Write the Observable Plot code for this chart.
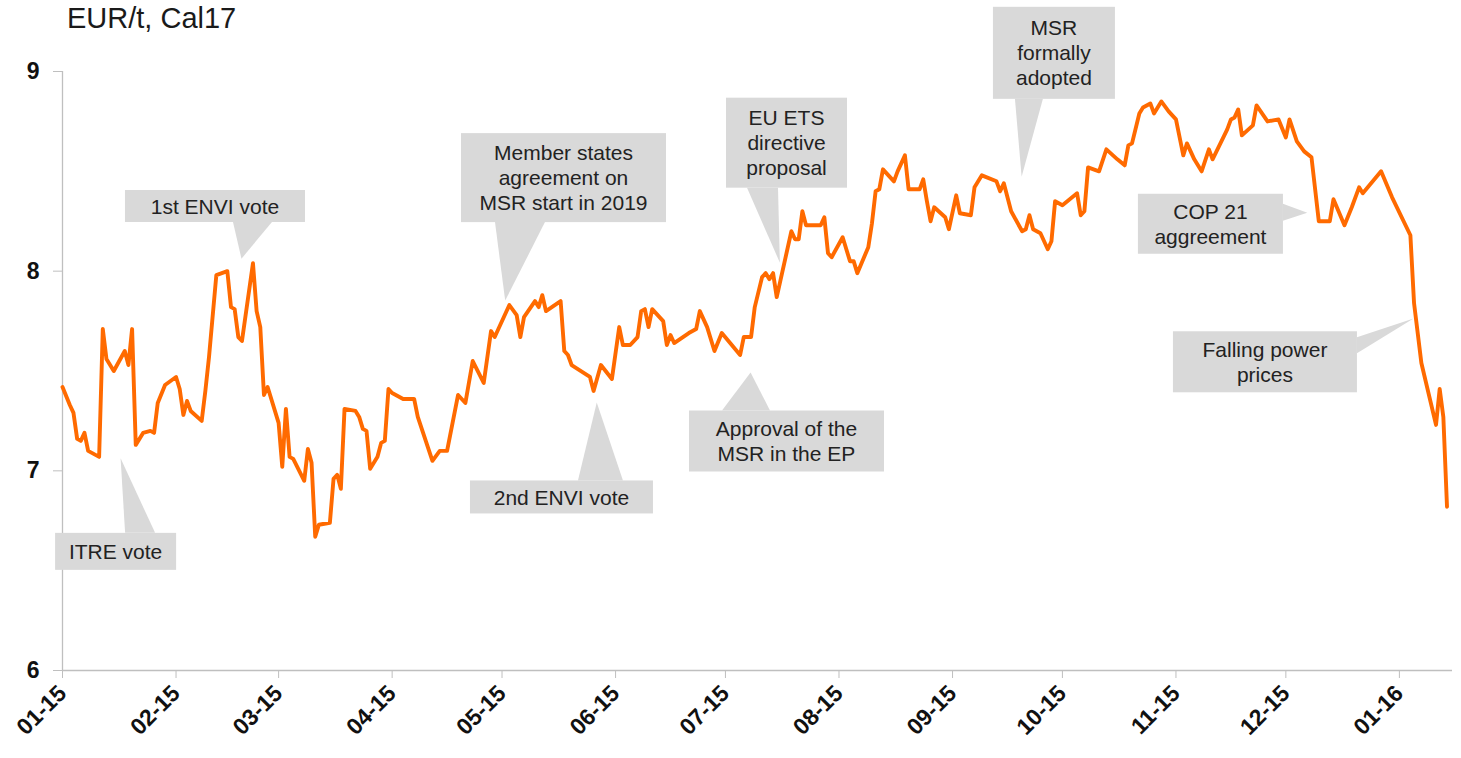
<!DOCTYPE html>
<html>
<head>
<meta charset="utf-8">
<script src="https://cdn.jsdelivr.net/npm/d3@7"></script>
<script src="https://cdn.jsdelivr.net/npm/@observablehq/plot@0.6"></script>
<style>
html,body{margin:0;padding:0;background:#fff;}
#wrap{position:relative;width:1461px;height:758px;font-family:"Liberation Sans",Arial,sans-serif;}
#title{position:absolute;left:67px;top:2px;font-size:29px;line-height:normal;color:#1a1a1a;white-space:nowrap;}
#chart{position:absolute;left:0;top:0;}
</style>
</head>
<body>
<div id="wrap"><div id="chart"></div><div id="title">EUR/t, Cal17</div></div>
<script>
// ---------- data ----------
const dates = [
"2015-01-01","2015-01-03","2015-01-04","2015-01-05","2015-01-06","2015-01-07","2015-01-08","2015-01-11","2015-01-12","2015-01-13",
"2015-01-15","2015-01-18","2015-01-19","2015-01-20","2015-01-21","2015-01-23","2015-01-25","2015-01-26","2015-01-27","2015-01-29",
"2015-02-01","2015-02-02","2015-02-03","2015-02-04","2015-02-05","2015-02-08","2015-02-09","2015-02-10","2015-02-12","2015-02-15",
"2015-02-16","2015-02-17","2015-02-18","2015-02-19","2015-02-22","2015-02-23","2015-02-24","2015-02-25","2015-02-26","2015-03-01",
"2015-03-02","2015-03-03","2015-03-04","2015-03-05","2015-03-08","2015-03-09","2015-03-10","2015-03-11","2015-03-12","2015-03-15",
"2015-03-16","2015-03-17","2015-03-18","2015-03-19","2015-03-22","2015-03-23","2015-03-24","2015-03-25","2015-03-26","2015-03-28",
"2015-03-29","2015-03-30","2015-03-31","2015-04-01","2015-04-04","2015-04-07","2015-04-08","2015-04-12","2015-04-14","2015-04-16",
"2015-04-19","2015-04-21","2015-04-23","2015-04-26","2015-04-28","2015-04-29","2015-05-03","2015-05-05","2015-05-06","2015-05-07",
"2015-05-10","2015-05-11","2015-05-12","2015-05-13","2015-05-17","2015-05-18","2015-05-19","2015-05-20","2015-05-25","2015-05-26",
"2015-05-28","2015-05-31","2015-06-02","2015-06-03","2015-06-05","2015-06-07","2015-06-08","2015-06-09","2015-06-10","2015-06-11",
"2015-06-14","2015-06-15","2015-06-16","2015-06-17","2015-06-21","2015-06-23","2015-06-24","2015-06-26","2015-06-28","2015-06-30",
"2015-07-05","2015-07-06","2015-07-08","2015-07-09","2015-07-11","2015-07-12","2015-07-13","2015-07-14","2015-07-15","2015-07-19",
"2015-07-20","2015-07-21","2015-07-22","2015-07-23","2015-07-27","2015-07-28","2015-07-29","2015-07-30","2015-08-02","2015-08-04",
"2015-08-05","2015-08-06","2015-08-09","2015-08-10","2015-08-11","2015-08-12","2015-08-13","2015-08-16","2015-08-17","2015-08-19",
"2015-08-20","2015-08-23","2015-08-24","2015-08-25","2015-08-26","2015-08-27","2015-08-30","2015-08-31","2015-09-02","2015-09-03",
"2015-09-06","2015-09-07","2015-09-09","2015-09-13","2015-09-14","2015-09-15","2015-09-17","2015-09-20","2015-09-21","2015-09-22",
"2015-09-23","2015-09-25","2015-09-27","2015-09-28","2015-09-29","2015-10-01","2015-10-03","2015-10-05","2015-10-06","2015-10-07",
"2015-10-08","2015-10-11","2015-10-13","2015-10-16","2015-10-18","2015-10-19","2015-10-20","2015-10-22","2015-10-23","2015-10-25",
"2015-10-26","2015-10-28","2015-10-30","2015-11-01","2015-11-03","2015-11-04","2015-11-06","2015-11-08","2015-11-10","2015-11-11",
"2015-11-15","2015-11-16","2015-11-17","2015-11-18","2015-11-19","2015-11-22","2015-11-23","2015-11-26","2015-11-29","2015-12-01",
"2015-12-02","2015-12-04","2015-12-06","2015-12-08","2015-12-10","2015-12-13","2015-12-14","2015-12-17","2015-12-19","2015-12-21",
"2015-12-22","2015-12-27","2015-12-30","2016-01-04","2016-01-05","2016-01-06","2016-01-07","2016-01-11","2016-01-12","2016-01-13",
"2016-01-14"
];
const prices = [
7.42,7.33,7.29,7.16,7.15,7.19,7.10,7.07,7.71,7.56,
7.50,7.60,7.53,7.71,7.13,7.19,7.20,7.19,7.34,7.43,
7.47,7.41,7.28,7.35,7.30,7.25,7.40,7.57,7.98,8.00,
7.82,7.81,7.67,7.65,8.04,7.80,7.72,7.38,7.42,7.24,
7.02,7.31,7.07,7.06,6.95,7.11,7.04,6.67,6.73,6.74,
6.96,6.98,6.91,7.31,7.30,7.27,7.21,7.20,7.01,7.07,
7.14,7.15,7.41,7.39,7.36,7.36,7.27,7.05,7.10,7.10,
7.38,7.34,7.55,7.44,7.70,7.67,7.83,7.78,7.67,7.77,
7.85,7.82,7.88,7.80,7.85,7.60,7.58,7.53,7.47,7.40,
7.53,7.46,7.72,7.63,7.63,7.67,7.80,7.81,7.72,7.81,
7.75,7.63,7.68,7.64,7.69,7.71,7.80,7.72,7.60,7.69,
7.58,7.67,7.67,7.82,7.97,7.99,7.96,7.99,7.87,8.20,
8.16,8.16,8.30,8.23,8.23,8.27,8.09,8.07,8.17,8.05,
8.05,7.99,8.12,8.24,8.40,8.41,8.51,8.45,8.50,8.58,
8.41,8.41,8.46,8.35,8.25,8.32,8.27,8.21,8.38,8.29,
8.28,8.42,8.48,8.45,8.40,8.44,8.30,8.20,8.21,8.28,
8.21,8.19,8.11,8.15,8.35,8.33,8.36,8.39,8.28,8.30,
8.52,8.50,8.61,8.56,8.53,8.63,8.64,8.79,8.82,8.84,
8.79,8.85,8.80,8.76,8.58,8.64,8.56,8.50,8.61,8.56,
8.71,8.76,8.77,8.81,8.68,8.73,8.83,8.75,8.76,8.67,
8.76,8.65,8.60,8.57,8.25,8.25,8.36,8.23,8.32,8.42,
8.39,8.50,8.37,8.18,7.84,7.69,7.54,7.23,7.41,7.27,
6.82
];

const tickDates = ["2015-01-01","2015-02-01","2015-03-01","2015-04-01","2015-05-01","2015-06-01","2015-07-01",
  "2015-08-01","2015-09-01","2015-10-01","2015-11-01","2015-12-01","2016-01-01"];
const tickLabels = ["01-15","02-15","03-15","04-15","05-15","06-15","07-15","08-15","09-15","10-15","11-15","12-15","01-16"];
const yTicks = [6, 7, 8, 9];

// annotations: text lines, and the point on the series they refer to
const annLabels = [
  ["1st ENVI vote"],
  ["ITRE vote"],
  ["Member states", "agreement on", "MSR start in 2019"],
  ["EU ETS", "directive", "proposal"],
  ["MSR", "formally", "adopted"],
  ["COP 21", "aggreement"],
  ["Falling power", "prices"],
  ["2nd ENVI vote"],
  ["Approval of the", "MSR in the EP"]
];
const annDates = ["2015-02-19","2015-01-17","2015-05-02","2015-07-16","2015-09-20","2015-12-07","2016-01-05","2015-05-27","2015-07-08"];
const annValues = [8.06, 7.06, 7.85, 8.04, 8.47, 8.29, 7.76, 7.34, 7.49];

// callout layout (pixels relative to the pointed point / box centre)
const annLayout = [
  {dx: -26.5, dy: -52.7, w: 180, h: 32, base: [[18, 16], [57, 16]]},
  {dx: -5,    dy: 93,    w: 121, h: 37, base: [[9.5, -18.5], [39.5, -18.5]]},
  {dx: 58.3,  dy: -123,  w: 205, h: 89, base: [[-68.5, 44.5], [-18.5, 44.5]]},
  {dx: 6.6,   dy: -120,  w: 121, h: 90, base: [[-39.5, 45], [-8.5, 45]]},
  {dx: 32.3,  dy: -124,  w: 122, h: 92, base: [[-39, 46], [-11, 46]]},
  {dx: -96.9, dy: 11,    w: 145, h: 60, base: [[72.5, -20], [72.5, -3]]},
  {dx: -148.6,dy: 43.2,  w: 184, h: 61, base: [[92, -24.5], [92, -8.5]]},
  {dx: -35.3, dy: 94.5,  w: 183, h: 33, base: [[16.5, -16.5], [61.5, -16.5]]},
  {dx: 35.9,  dy: 68.5,  w: 195, h: 61, base: [[-64.5, -30.5], [-16.5, -30.5]]}
];

// ---------- build ----------
const parse = d3.utcParse("%Y-%m-%d");
const series = dates.map((d, i) => ({date: parse(d), value: prices[i]}));
const tickDateObjs = tickDates.map(parse);
const labelMap = new Map(tickDateObjs.map((d, i) => [+d, tickLabels[i]]));
const xDomain = [parse("2015-01-01"), new Date(Date.UTC(2016, 0, 15, 12))];

const FONT = '"Liberation Sans", Arial, sans-serif';
const AXIS = "#bfbfbf";

function calloutMark(index, scales) {
  const g = d3.create("svg:g");
  annLabels.forEach((lines, i) => {
    const L = annLayout[i];
    const tx = scales.x(parse(annDates[i]));
    const ty = scales.y(annValues[i]);
    const cx = tx + L.dx, cy = ty + L.dy;
    const pts = [[tx, ty], [cx + L.base[0][0], cy + L.base[0][1]], [cx + L.base[1][0], cy + L.base[1][1]]];
    g.append("polygon")
      .attr("points", pts.map(p => p.join(",")).join(" "))
      .attr("fill", "#d9d9d9");
    g.append("rect")
      .attr("x", cx - L.w / 2).attr("y", cy - L.h / 2)
      .attr("width", L.w).attr("height", L.h)
      .attr("fill", "#d9d9d9");
    const t = g.append("text")
      .attr("text-anchor", "middle")
      .attr("font-family", FONT)
      .attr("font-size", 21)
      .attr("fill", "#222");
    lines.forEach((s, j) => {
      t.append("tspan")
        .attr("x", cx)
        .attr("y", cy + (j - (lines.length - 1) / 2) * 25)
        .attr("dy", "0.36em")
        .text(s);
    });
  });
  return g.node();
}

const chart = Plot.plot({
  width: 1461,
  height: 758,
  marginLeft: 62,
  marginRight: 9,
  marginTop: 71,
  marginBottom: 88,
  style: {fontFamily: FONT, background: "transparent", color: "#111"},
  x: {type: "utc", domain: xDomain},
  y: {domain: [6, 9]},
  marks: [
    Plot.ruleY([6], {stroke: AXIS, strokeWidth: 1.3}),
    Plot.ruleX([xDomain[0]], {stroke: AXIS, strokeWidth: 1.3}),
    Plot.axisY({
      ticks: yTicks, tickSize: 9, tickPadding: 14, stroke: AXIS,
      fontSize: 23, fontWeight: "bold", fill: "#111", label: null, tickFormat: d => String(d)
    }),
    Plot.axisX({
      ticks: tickDateObjs, tickFormat: d => labelMap.get(+d), tickRotate: -45,
      tickSize: 8, tickPadding: 11, stroke: AXIS,
      fontSize: 23, fontWeight: "bold", fill: "#111", label: null
    }),
    Plot.line(series, {x: "date", y: "value", stroke: "#ff6a00", strokeWidth: 3.9, strokeLinejoin: "round"}),
    calloutMark
  ]
});
document.getElementById("chart").appendChild(chart);
</script>
</body>
</html>
